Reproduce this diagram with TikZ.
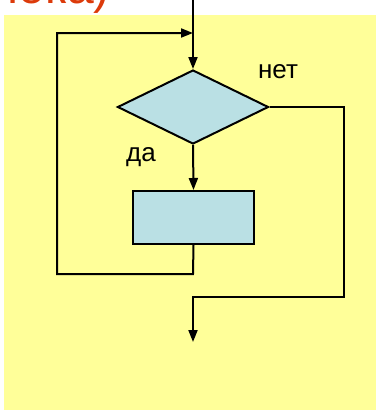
\documentclass[tikz,border=0pt]{standalone}
\usepackage{fontspec}
\setmainfont{Liberation Sans}
\usetikzlibrary{shapes.geometric,arrows.meta}
\definecolor{bgyellow}{RGB}{255,255,153}
\definecolor{boxblue}{RGB}{186,224,228}
\definecolor{titlered}{RGB}{220,58,10}
\tikzset{
  flow/.style={line width=2pt, draw=black},
  arr/.style={flow, -{Triangle[length=12pt,width=9pt]}},
  lbl/.style={font=\fontsize{26}{26}\selectfont, inner sep=0pt},
}
\begin{document}
\begin{tikzpicture}[x=1pt,y=-1pt]
\useasboundingbox (0,0) rectangle (376,410);
\begin{scope}
\clip (0,0) rectangle (376,410);
\node[anchor=base east, text=titlered, inner sep=0pt, font=\fontsize{48}{48}\selectfont] (title) at (110,3) {пока)};
\end{scope}
\fill[bgyellow] (4,15) rectangle (376,410);
\coordinate (top) at (193,0);
\node[diamond, draw, line width=2pt, fill=boxblue, minimum width=151pt, minimum height=74pt, aspect=2.04, inner sep=0pt] (cond) at (193,107) {};
\node[draw, line width=2pt, fill=boxblue, minimum width=121pt, minimum height=53pt, inner sep=0pt] (body) at (193.5,217.5) {};
\node[lbl] (no) at (278,72) {нет};
\node[lbl] (yes) at (141,157) {да};
\coordinate (merge) at (193,33);
\coordinate (l1) at (193,274);
\coordinate (l2) at (57,274);
\coordinate (l3) at (57,33);
\coordinate (r1) at (344,107);
\coordinate (r2) at (344,297);
\coordinate (r3) at (193,297);
\coordinate (out) at (193,342);
\draw[arr] (top) -- (cond.north);
\draw[arr] (cond.south) -- (body.north);
\draw[arr] (body.south) -- (l1) -- (l2) -- (l3) -- (merge);
\draw[arr] (cond.east) -- (r1) -- (r2) -- (r3) -- (out);
\end{tikzpicture}
\end{document}
